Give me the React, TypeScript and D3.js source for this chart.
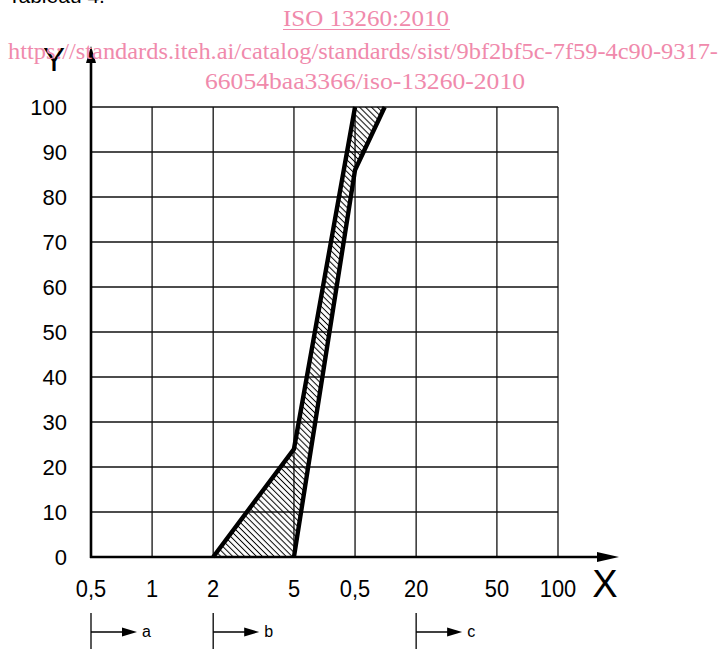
import React, { useEffect, useRef } from "react";
import * as d3 from "d3";

// grid values
const xTicks = [0.5, 1, 2, 5, 10, 20, 50, 100];
const xTickLabels = ["0,5", "1", "2", "5", "0,5", "20", "50", "100"];
const yTicks = [0, 10, 20, 30, 40, 50, 60, 70, 80, 90, 100];

// boundary curves of the hatched zone
const leftCurve = [
  { x: 2, y: 0 },
  { x: 5, y: 24 },
  { x: 10, y: 100 },
];
const rightCurve = [
  { x: 5, y: 0 },
  { x: 10, y: 86 },
  { x: 14, y: 100 },
];

// zone markers under the axis
const zones = [
  { x: 0.5, label: "a" },
  { x: 2, label: "b" },
  { x: 20, label: "c" },
];

const pink = "#f08aac";
const sans = "'Liberation Sans', Arial, sans-serif";
const serif = "'Liberation Serif', 'Times New Roman', serif";

const App = () => {
  const svgRef = useRef<SVGSVGElement>(null);

  useEffect(() => {
    const svg = d3.select(svgRef.current);
    svg.selectAll("*").remove();

    const width = 721, height = 649;

    const x = d3.scaleLog().domain([0.5, 100]).range([91, 558]);
    const y = d3.scaleLinear().domain([0, 100]).range([557, 107]);

    const defs = svg.append("defs");
    defs.append("pattern")
      .attr("id", "hatch")
      .attr("patternUnits", "userSpaceOnUse")
      .attr("width", 8)
      .attr("height", 4.2)
      .attr("patternTransform", "rotate(45)")
      .append("line")
      .attr("x1", 0).attr("y1", 2.1)
      .attr("x2", 8).attr("y2", 2.1)
      .attr("stroke", "#000")
      .attr("stroke-width", 1);

    // title (cut off at top)
    svg.append("text")
      .attr("x", 8).attr("y", 3)
      .attr("font-family", sans).attr("font-size", 21)
      .attr("fill", "#000")
      .text("Tableau 4.");

    // grid
    const grid = svg.append("g").attr("stroke", "#111").attr("stroke-width", 1.3);
    grid.selectAll("line.v")
      .data(xTicks.slice(1))
      .join("line")
      .attr("class", "v")
      .attr("x1", d => x(d)).attr("x2", d => x(d))
      .attr("y1", y(0)).attr("y2", y(100));
    grid.selectAll("line.h")
      .data(yTicks.slice(1))
      .join("line")
      .attr("class", "h")
      .attr("x1", x(0.5)).attr("x2", x(100))
      .attr("y1", d => y(d)).attr("y2", d => y(d));

    // hatched zone
    const zone = [...leftCurve, ...rightCurve.slice().reverse()];
    const line = d3.line<{ x: number; y: number }>()
      .x(d => x(d.x))
      .y(d => y(d.y));
    svg.append("path")
      .attr("d", line(zone) + "Z")
      .attr("fill", "url(#hatch)")
      .attr("stroke", "none");

    // axes with arrows
    const axes = svg.append("g").attr("stroke", "#000").attr("stroke-width", 2.6);
    axes.append("line")
      .attr("x1", x(0.5)).attr("x2", x(0.5))
      .attr("y1", y(0) + 1).attr("y2", 60);
    axes.append("line")
      .attr("x1", x(0.5) - 1).attr("x2", 600)
      .attr("y1", y(0)).attr("y2", y(0));
    svg.append("path")
      .attr("d", `M${x(0.5)},46 L${x(0.5) - 5},63 L${x(0.5) + 5},63 Z`)
      .attr("fill", "#000");
    svg.append("path")
      .attr("d", `M619,${y(0)} L597,${y(0) - 5} L597,${y(0) + 5} Z`)
      .attr("fill", "#000");

    // curves
    [leftCurve, rightCurve].forEach(c => {
      svg.append("path")
        .attr("d", line(c))
        .attr("fill", "none")
        .attr("stroke", "#000")
        .attr("stroke-width", 4.4)
        .attr("stroke-linejoin", "miter");
    });

    // tick labels
    svg.append("g")
      .selectAll("text")
      .data(yTicks)
      .join("text")
      .attr("x", 67)
      .attr("y", d => y(d) + 8)
      .attr("text-anchor", "end")
      .attr("font-family", sans).attr("font-size", 22)
      .attr("fill", "#000")
      .text(d => String(d));

    svg.append("g")
      .selectAll("text")
      .data(xTicks)
      .join("text")
      .attr("transform", d => `translate(${x(d)},597) scale(0.95,1.08)`)
      .attr("text-anchor", "middle")
      .attr("font-family", sans).attr("font-size", 23)
      .attr("fill", "#000")
      .text((d, i) => xTickLabels[i]);

    svg.append("text")
      .attr("x", 54).attr("y", 71)
      .attr("text-anchor", "middle")
      .attr("font-family", sans).attr("font-size", 33)
      .attr("fill", "#000")
      .text("Y");
    svg.append("text")
      .attr("x", 605).attr("y", 597)
      .attr("text-anchor", "middle")
      .attr("font-family", sans).attr("font-size", 38)
      .attr("fill", "#000")
      .text("X");

    // zone markers
    const zg = svg.append("g").selectAll("g")
      .data(zones)
      .join("g")
      .attr("transform", d => `translate(${x(d.x)},0)`);
    zg.append("line")
      .attr("x1", 0).attr("x2", 0)
      .attr("y1", 613).attr("y2", height)
      .attr("stroke", "#000").attr("stroke-width", 1.3);
    zg.append("line")
      .attr("x1", 0).attr("x2", 34)
      .attr("y1", 632).attr("y2", 632)
      .attr("stroke", "#000").attr("stroke-width", 1.3);
    zg.append("path")
      .attr("d", "M46,632 L31,627.5 L31,636.5 Z")
      .attr("fill", "#000");
    zg.append("text")
      .attr("x", 51).attr("y", 637)
      .attr("font-family", sans).attr("font-size", 16)
      .attr("fill", "#000")
      .text(d => d.label);

    // watermark
    svg.append("text")
      .attr("x", 366).attr("y", 26)
      .attr("text-anchor", "middle")
      .attr("font-family", serif).attr("font-size", 23)
      .attr("fill", pink)
      .attr("textLength", 166).attr("lengthAdjust", "spacingAndGlyphs")
      .text("ISO 13260:2010");
    svg.append("line")
      .attr("x1", 283).attr("x2", 450)
      .attr("y1", 29.5).attr("y2", 29.5)
      .attr("stroke", pink).attr("stroke-width", 1.2);
    svg.append("text")
      .attr("x", 363).attr("y", 59)
      .attr("text-anchor", "middle")
      .attr("font-family", serif).attr("font-size", 23)
      .attr("fill", pink)
      .attr("textLength", 710).attr("lengthAdjust", "spacingAndGlyphs")
      .text("https://standards.iteh.ai/catalog/standards/sist/9bf2bf5c-7f59-4c90-9317-");
    svg.append("text")
      .attr("x", 365).attr("y", 89)
      .attr("text-anchor", "middle")
      .attr("font-family", serif).attr("font-size", 23)
      .attr("fill", pink)
      .attr("textLength", 320).attr("lengthAdjust", "spacingAndGlyphs")
      .text("66054baa3366/iso-13260-2010");

    svg.attr("width", width).attr("height", height);
  }, []);

  return (
    <svg
      ref={svgRef}
      width={721}
      height={649}
      style={{ position: "absolute", left: 0, top: 0, background: "#fff" }}
    ></svg>
  );
};

export default App;
